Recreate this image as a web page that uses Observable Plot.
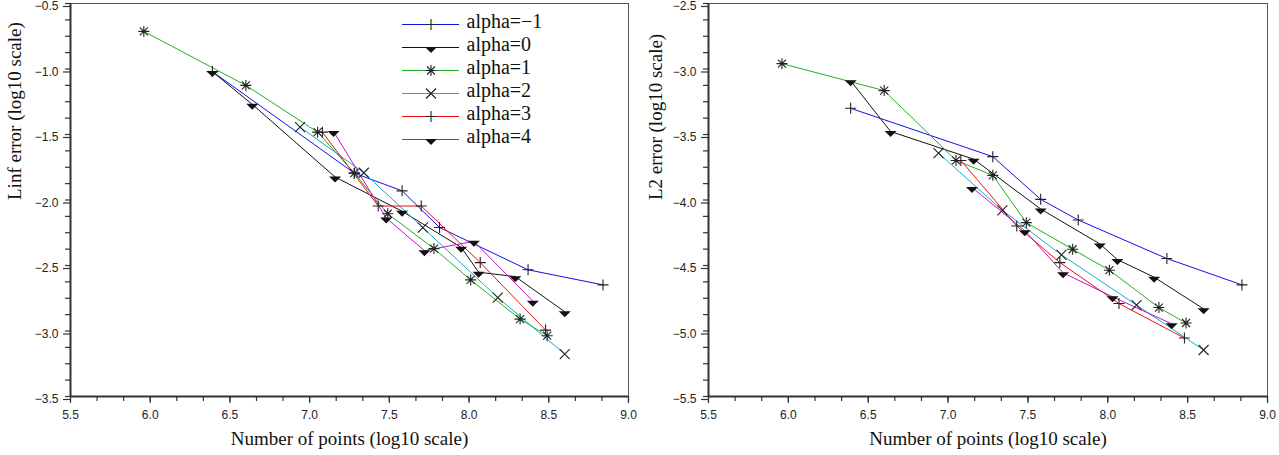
<!DOCTYPE html>
<html><head><meta charset="utf-8">
<script src="https://cdn.jsdelivr.net/npm/d3@7"></script>
<script src="https://cdn.jsdelivr.net/npm/@observablehq/plot@0.6"></script>
<style>
html,body{margin:0;padding:0;background:#fff;}
#wrap{position:relative;width:1279px;height:455px;display:flex;overflow:hidden;}
#legend{position:absolute;left:390px;top:0;}
svg{overflow:visible;}
</style></head><body><div id="wrap"></div>
<script>
// ---------- labels / categories ----------
const seriesNames = ["alpha=\u22121", "alpha=0", "alpha=1", "alpha=2", "alpha=3", "alpha=4"];
const xTitle = "Number of points (log10 scale)";
const linfTitle = "Linf error (log10 scale)";
const l2Title = "L2 error (log10 scale)";

// ---------- tick values ----------
const xTicks = [5.5, 6.0, 6.5, 7.0, 7.5, 8.0, 8.5, 9.0];
const linfTicks = [-3.5, -3.0, -2.5, -2.0, -1.5, -1.0, -0.5];
const l2Ticks = [-5.5, -5.0, -4.5, -4.0, -3.5, -3.0, -2.5];

// ---------- data: log10(number of points) ----------
const xAlphaM1 = [6.39, 7.28, 7.58, 7.815, 8.37, 8.84];
const xAlpha0  = [6.39, 6.64, 7.16, 7.58, 7.95, 8.06, 8.29, 8.60];
const xAlpha1  = [5.96, 6.60, 7.05, 7.28, 7.49, 7.78, 8.01, 8.32, 8.49];
const xAlpha2  = [6.94, 7.34, 7.71, 8.18, 8.60];
const xAlpha3  = [7.08, 7.43, 7.70, 8.07, 8.48];
const xAlpha4  = [7.15, 7.48, 7.72, 8.03, 8.40];

// ---------- data: log10(Linf error) ----------
const linfAlphaM1 = [-1.02, -1.795, -1.93, -2.21, -2.533, -2.648];
const linfAlpha0  = [-1.02, -1.27, -1.825, -2.086, -2.361, -2.551, -2.585, -2.853];
const linfAlpha1  = [-0.713, -1.125, -1.482, -1.795, -2.105, -2.371, -2.61, -2.909, -3.036];
const linfAlpha2  = [-1.444, -1.792, -2.211, -2.745, -3.176];
const linfAlpha3  = [-1.482, -2.046, -2.046, -2.478, -2.993];
const linfAlpha4  = [-1.477, -2.137, -2.387, -2.315, -2.772];

// ---------- data: log10(L2 error) ----------
const l2AlphaM1 = [-3.30, -3.669, -3.995, -4.153, -4.447, -4.648];
const l2Alpha0  = [-3.09, -3.477, -3.688, -4.069, -4.335, -4.455, -4.589, -4.831];
const l2Alpha1  = [-2.959, -3.165, -3.698, -3.812, -4.173, -4.376, -4.536, -4.821, -4.939];
const l2Alpha2  = [-3.642, -4.079, -4.419, -4.802, -5.145];
const l2Alpha3  = [-3.698, -4.198, -4.478, -4.790, -5.054];
const l2Alpha4  = [-3.904, -4.234, -4.556, -4.739, -4.945];

// ---------- styles ----------
const lineColors = ["#1010ee", "#111111", "#22b022", "#10b0c0", "#ee1010", "#c810c8"];
const markerKinds = ["plus", "triangle", "asterisk", "cross", "plus", "triangle"];

const symbols = {
  plus: {draw(c) { c.moveTo(-5.5, 0); c.lineTo(5.5, 0); c.moveTo(0, -5.5); c.lineTo(0, 5.5); }},
  cross: {draw(c) { c.moveTo(-5, -5); c.lineTo(5, 5); c.moveTo(-5, 5); c.lineTo(5, -5); }},
  asterisk: {draw(c) {
    c.moveTo(-5.5, 0); c.lineTo(5.5, 0); c.moveTo(0, -5.5); c.lineTo(0, 5.5);
    c.moveTo(-4, -4); c.lineTo(4, 4); c.moveTo(-4, 4); c.lineTo(4, -4);
  }},
  triangle: {draw(c) { c.moveTo(-6, -0.5); c.lineTo(6, -0.5); c.lineTo(0, 5.5); c.closePath(); }}
};
function markerStyle(kind) {
  return kind === "triangle"
    ? {fill: "#111", stroke: "none"}
    : {fill: "none", stroke: "#222", strokeWidth: 1.1};
}

const xsAll = [xAlphaM1, xAlpha0, xAlpha1, xAlpha2, xAlpha3, xAlpha4];
const linfAll = [linfAlphaM1, linfAlpha0, linfAlpha1, linfAlpha2, linfAlpha3, linfAlpha4];
const l2All = [l2AlphaM1, l2Alpha0, l2Alpha1, l2Alpha2, l2Alpha3, l2Alpha4];

function buildRows(ysAll) {
  return seriesNames.map((name, i) => xsAll[i].map((x, j) => ({series: name, logN: x, err: ysAll[i][j]})));
}

function minorTicks(lo, hi, step) {
  const out = [];
  const n = Math.round((hi - lo) / step);
  for (let k = 0; k <= n; k++) out.push(lo + k * step);
  return out;
}

const fmt = d3.format(".1f");

function panel({width, marginLeft, marginRight, yTicks, yTitle, ysAll, titleDx}) {
  const groups = buildRows(ysAll);
  const flat = groups.flat();
  const yDomain = [yTicks[0], yTicks[yTicks.length - 1]];
  const marks = [
    Plot.line(flat, {x: "logN", y: "err", z: "series", stroke: "series", strokeWidth: 1})
  ];
  groups.forEach((g, i) => {
    marks.push(Plot.dot(g, {x: "logN", y: "err", symbol: symbols[markerKinds[i]], r: 5, ...markerStyle(markerKinds[i])}));
  });
  marks.push(
    Plot.frame({stroke: "#555", strokeWidth: 1}),
    Plot.axisX(minorTicks(5.5, 9.0, 0.5 / 3), {tickSize: 5, tickFormat: () => "", stroke: "#333", strokeWidth: 1.2, label: null}),
    Plot.axisX(xTicks, {tickSize: 7, tickPadding: 7, tickFormat: fmt, stroke: "#333", strokeWidth: 1.2, label: null, fill: "#222"}),
    Plot.axisY(minorTicks(yDomain[0], yDomain[1], 0.125), {tickSize: 5, tickFormat: () => "", stroke: "#333", strokeWidth: 1.2, label: null}),
    Plot.axisY(yTicks, {tickSize: 7, tickPadding: 5, tickFormat: fmt, stroke: "#333", strokeWidth: 1.2, label: null, fill: "#222", dy: 3}),
    Plot.ruleX([5.5], {stroke: "#333", strokeWidth: 2}),
    Plot.ruleY([yDomain[0]], {stroke: "#333", strokeWidth: 2}),
    Plot.text([xTitle], {frameAnchor: "bottom", dy: 42, lineAnchor: "middle", fontFamily: "Liberation Serif, Times New Roman, serif", fontSize: 19, fill: "#111"}),
    Plot.text([yTitle], {frameAnchor: "left", rotate: -90, dx: titleDx, lineAnchor: "middle", fontFamily: "Liberation Serif, Times New Roman, serif", fontSize: 19, fill: "#111"})
  );
  return Plot.plot({
    width, height: 455,
    marginLeft, marginRight, marginTop: 3, marginBottom: 59,
    x: {domain: [5.5, 9.0], label: null},
    y: {domain: yDomain, label: null},
    color: {domain: seriesNames, range: lineColors},
    style: {fontFamily: "Liberation Sans, Arial, sans-serif", fontSize: "12px", color: "#222", background: "#fff", overflow: "visible"},
    marks
  });
}

function legend() {
  const marks = [
    Plot.ruleY(seriesNames, {y: d => d, x1: 0, x2: 1, stroke: d => d, strokeWidth: 1.2})
  ];
  seriesNames.forEach((name, i) => {
    marks.push(Plot.dot([name], {x: 0.5, y: d => d, symbol: symbols[markerKinds[i]], r: 5, ...markerStyle(markerKinds[i])}));
  });
  marks.push(Plot.text(seriesNames, {x: 1, y: d => d, dx: 7, dy: -3, textAnchor: "start", lineAnchor: "middle", fontFamily: "Liberation Serif, Times New Roman, serif", fontSize: 20, fill: "#111"}));
  return Plot.plot({
    width: 200, height: 160,
    marginLeft: 12, marginRight: 131, marginTop: 23, marginBottom: 20,
    x: {domain: [0, 1], axis: null},
    y: {type: "point", domain: seriesNames, padding: 0, axis: null},
    color: {domain: seriesNames, range: lineColors},
    style: {background: "transparent", overflow: "visible"},
    marks
  });
}

const wrap = document.getElementById("wrap");
wrap.appendChild(panel({width: 640, marginLeft: 70, marginRight: 12, yTicks: linfTicks, yTitle: linfTitle, ysAll: linfAll, titleDx: -56}));
wrap.appendChild(panel({width: 639, marginLeft: 68, marginRight: 12, yTicks: l2Ticks, yTitle: l2Title, ysAll: l2All, titleDx: -53}));
const leg = legend();
leg.id = "legend";
wrap.appendChild(leg);
</script>
</body></html>
